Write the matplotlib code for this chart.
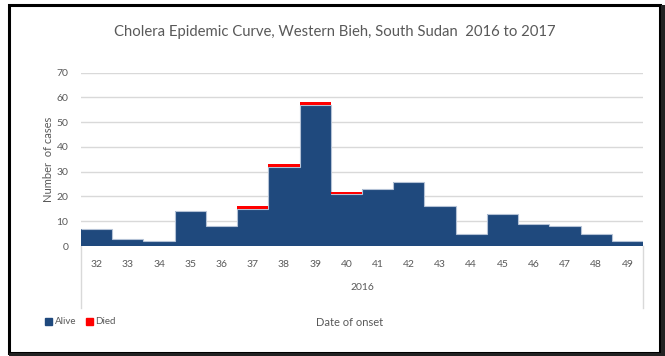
import matplotlib.pyplot as plt
from matplotlib.patches import Rectangle, Patch
import numpy as np

weeks = ["32", "33", "34", "35", "36", "37", "38", "39", "40",
         "41", "42", "43", "44", "45", "46", "47", "48", "49"]
alive = [7, 3, 2, 14, 8, 15, 32, 57, 21, 23, 26, 16, 5, 13, 9, 8, 5, 2]
died = [0, 0, 0, 0, 0, 1, 1, 1, 1, 0, 0, 0, 0, 0, 0, 0, 0, 0]
year_label = "2016"

plt.rcParams['font.family'] = ['Lato', 'DejaVu Sans']
grey = '#595959'
blue = '#1f497d'
red = '#ff0000'

W, H = 665, 356
fig = plt.figure(figsize=(W / 100, H / 100), dpi=100)
ax = fig.add_axes([81 / W, (H - 246) / H, (643 - 81) / W, (246 - 72.7) / H])

x = np.arange(len(weeks))
edges = np.arange(len(weeks) + 1) - 0.5
ax.bar(x, alive, width=1.0, color=blue, edgecolor='none', zorder=3)
# light outline only along the exposed profile of the columns
ax.stairs(alive, edges, baseline=None, color='#b4c2d6', linewidth=0.8, zorder=3.5)
ax.bar(x, died, bottom=alive, width=1.0, color=red, edgecolor='none', zorder=4)

ax.set_xlim(-0.5, len(weeks) - 0.5)
ax.set_ylim(0, 70)
ax.set_yticks(range(0, 71, 10))
ax.yaxis.grid(True, color='#d9d9d9', linewidth=1.0, zorder=0)
for s in ax.spines.values():
    s.set_visible(False)
ax.tick_params(axis='y', length=0, pad=9, labelsize=7.5, labelcolor=grey)
ax.tick_params(axis='x', length=0, pad=10, labelsize=7.5, labelcolor=grey)
ax.set_xticks(x)
ax.set_xticklabels(weeks)

# multi-level category axis: baseline, outer separators and year label
ax.axhline(0, color='#d9d9d9', linewidth=1.0, zorder=2)
for xe in (-0.5, len(weeks) - 0.5):
    ax.plot([xe, xe], [0, -0.36], transform=ax.get_xaxis_transform(),
            color='#d9d9d9', linewidth=1.0, clip_on=False)
ax.text(0.5, -0.24, year_label, transform=ax.transAxes, ha='center', va='center',
        fontsize=7.5, color=grey)

ax.set_ylabel("Number  of cases", fontsize=8, color=grey, labelpad=2)

fig.text(335 / W, 1 - 32 / H, "Cholera Epidemic Curve, Western Bieh, South Sudan  2016 to 2017",
         ha='center', va='center', fontsize=10.7, color=grey)
fig.text(350 / W, 1 - 323 / H, "Date of onset", ha='center', va='center',
         fontsize=8, color=grey)

handles = [Patch(color=blue, label='Alive'), Patch(color=red, label='Died')]
fig.legend(handles=handles, loc='center left', bbox_to_anchor=(36 / W, 1 - 322 / H),
           ncol=2, frameon=False, fontsize=7, labelcolor=grey,
           handlelength=0.7, handleheight=0.7, handletextpad=0.3, columnspacing=1.0)

# outer chart frame
fig.patches.append(Rectangle((9 / W, 1 - 353 / H), (660 - 9) / W, (353 - 5) / H,
                             transform=fig.transFigure, fill=False,
                             edgecolor='black', linewidth=2.2))
fig.patches.append(Rectangle((661 / W, 0), 4 / W, 1 - 5 / H, transform=fig.transFigure,
                             facecolor='#222222', edgecolor='none'))
fig.patches.append(Rectangle((9 / W, 0), 656 / W, 3 / H, transform=fig.transFigure,
                             facecolor='#222222', edgecolor='none'))

fig.savefig("out.png", dpi=100, facecolor='white')
